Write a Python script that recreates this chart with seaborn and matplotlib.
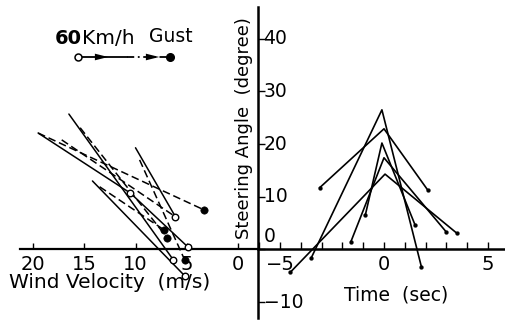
import numpy as np
import pandas as pd
import matplotlib
matplotlib.use("Agg")
import matplotlib.pyplot as plt
from matplotlib.lines import Line2D
from matplotlib.patches import FancyArrowPatch
import seaborn as sns

sns.set_style("white")
plt.rcParams["font.family"] = ["DejaVu Sans"]
plt.rcParams["text.color"] = "black"

# ---- Left panel: steering angle against wind velocity ----
# steady 60 km/h runs (solid, ending on an open circle)
solid_start_wind = [19.5, 16.5, 10.0, 14.2, 10.5]
solid_start_angle = [22.1, 25.7, 19.3, 13.0, 10.7]
solid_end_wind = [10.5, 6.3, 6.1, 5.2, 4.9]
solid_end_angle = [10.7, -2.0, 6.2, -5.0, 0.5]

# gust runs (dashed, the first four ending on a filled circle)
dashed_start_wind = [19.5, 15.4, 9.6, 13.5, 17.2]
dashed_start_angle = [22.1, 23.1, 17.0, 11.9, 20.8]
dashed_end_wind = [3.3, 6.9, 5.2, 7.2, 6.1]
dashed_end_angle = [7.5, 2.2, -2.0, 3.7, 6.2]
n_gust_points = 4

# ---- Right panel: steering angle time histories ----
t_start = [-3.1, -3.5, -0.9, -1.6, -4.5]
a_start = [11.7, -1.6, 6.5, 1.4, -4.3]
t_peak = [0.0, -0.1, -0.1, 0.0, 0.05]
a_peak = [22.9, 26.5, 20.2, 17.4, 14.3]
t_end = [2.1, 1.8, 1.5, 3.0, 3.5]
a_end = [11.3, -3.3, 4.6, 3.3, 3.1]

wind_ticks = [20, 15, 10, 5, 0]
time_ticks = [-5, 0, 5]
angle_ticks = [-10, 0, 10, 20, 30, 40]


def segments(x0, y0, x1, y1, xname, yname):
    rows = []
    for i, (a, b, c, d) in enumerate(zip(x0, y0, x1, y1)):
        rows.append({"seg": i, xname: a, yname: b})
        rows.append({"seg": i, xname: c, yname: d})
    return pd.DataFrame(rows)


solid_df = segments(solid_start_wind, solid_start_angle,
                    solid_end_wind, solid_end_angle, "wind", "angle")
dashed_df = segments(dashed_start_wind, dashed_start_angle,
                     dashed_end_wind, dashed_end_angle, "wind", "angle")

time_rows = []
for i in range(len(t_start)):
    for t, a in ((t_start[i], a_start[i]), (t_peak[i], a_peak[i]), (t_end[i], a_end[i])):
        time_rows.append({"run": i, "time": t, "angle": a})
time_df = pd.DataFrame(time_rows)

W, H = 505, 321
fig = plt.figure(figsize=(W / 100, H / 100), dpi=100)
split = 258
ax_l = fig.add_axes([0, 0, split / W, 1])
ax_r = fig.add_axes([split / W, 0, 1 - split / W, 1])

ylim = (-13.57, 47.34)
for ax in (ax_l, ax_r):
    ax.set_ylim(*ylim)
    ax.set_facecolor("none")
ax_l.set_xlim(23.22, -1.95)
ax_r.set_xlim(-6.06, 5.82)

lw = 1.1
dash = (0, (5, 2.5))

sns.lineplot(data=solid_df, x="wind", y="angle", units="seg", estimator=None,
             sort=False, color="black", lw=lw, ax=ax_l)
sns.lineplot(data=dashed_df, x="wind", y="angle", units="seg", estimator=None,
             sort=False, color="black", lw=lw, linestyle=dash, ax=ax_l)
sns.scatterplot(x=solid_end_wind, y=solid_end_angle, marker="o", s=22,
                facecolor="white", edgecolor="black", linewidth=1.0,
                zorder=4, ax=ax_l)
sns.scatterplot(x=dashed_end_wind[:n_gust_points], y=dashed_end_angle[:n_gust_points],
                marker="o", s=28, color="black", edgecolor="black",
                zorder=4, ax=ax_l)

sns.lineplot(data=time_df, x="time", y="angle", units="run", estimator=None,
             sort=False, color="black", lw=1.2, ax=ax_r)
sns.scatterplot(x=t_start + t_end, y=a_start + a_end, s=8, color="black",
                edgecolor="black", zorder=4, ax=ax_r)

for ax in (ax_l, ax_r):
    ax.set_xlabel("")
    ax.set_ylabel("")

# spines
for s in ("top", "right", "left"):
    ax_l.spines[s].set_visible(False)
ax_l.spines["bottom"].set_position(("data", 0))
ax_l.spines["bottom"].set_bounds(21.3, -1.95)
ax_l.spines["bottom"].set_linewidth(1.6)
ax_l.spines["bottom"].set_color("black")

for s in ("top", "right"):
    ax_r.spines[s].set_visible(False)
ax_r.spines["bottom"].set_position(("data", 0))
ax_r.spines["bottom"].set_bounds(-6.06, 5.82)
ax_r.spines["left"].set_bounds(-13.0, 46.0)
for s in ("bottom", "left"):
    ax_r.spines[s].set_linewidth(1.8)
    ax_r.spines[s].set_color("black")

# ticks
ax_l.set_yticks([])
ax_l.set_xticks(wind_ticks)
ax_l.set_xticklabels([str(v) for v in wind_ticks])
ax_l.tick_params(axis="x", direction="in", length=4, width=1.0, pad=4,
                 labelsize=14, colors="black", bottom=True)

ax_r.set_xticks(time_ticks)
ax_r.set_xticklabels(["\u22125", "0", "5"])
ax_r.set_xticks(np.arange(-6, 6, 1), minor=True)
ax_r.tick_params(axis="x", which="both", direction="in", length=5, width=1.0,
                 pad=4, labelsize=14, colors="black", bottom=True)
ax_r.set_yticks(angle_ticks)
ax_r.tick_params(axis="y", direction="in", length=5, width=1.0,
                 labelleft=False, left=True, colors="black")
for v in angle_ticks:
    if v == 0:
        ax_r.annotate("0", xy=(0, v), xycoords=("axes fraction", "data"),
                      xytext=(4, 2.5), textcoords="offset points",
                      ha="left", va="bottom", fontsize=13.5)
    else:
        lbl = f"\u2212{abs(v)}" if v < 0 else str(v)
        ax_r.annotate(lbl, xy=(0, v), xycoords=("axes fraction", "data"),
                      xytext=(4, 0), textcoords="offset points",
                      ha="left", va="center", fontsize=13.5)


def fp(x, y):
    return x / W, 1 - y / H


# axis titles
fig.text(*fp(110, 283), "Wind Velocity  (m/s)", fontsize=14.5,
         ha="center", va="center")
fig.text(*fp(396, 295), "Time  (sec)", fontsize=13.5, ha="center", va="center")
fig.text(*fp(244, 128), "Steering Angle  (degree)", fontsize=13,
         rotation=90, ha="center", va="center")

# key: 60 km/h (open) followed by gust (filled)
fig.text(*fp(55, 39), "60", fontsize=14, fontweight="bold", ha="left", va="center")
fig.text(*fp(82, 38), "Km/h", fontsize=14.5, ha="left", va="center")
fig.text(*fp(171, 36), "Gust", fontsize=13.5, ha="center", va="center")
ky = 57
x0, xm, x1 = 78, 127, 170
fig.add_artist(Line2D([fp(x0, ky)[0], fp(xm, ky)[0]], [fp(x0, ky)[1]] * 2,
                      transform=fig.transFigure, color="black", lw=1.3))
fig.add_artist(Line2D([fp(xm, ky)[0], fp(x1, ky)[0]], [fp(xm, ky)[1]] * 2,
                      transform=fig.transFigure, color="black", lw=1.3,
                      linestyle=(0, (4, 2, 1, 2))))
for xa in (100, 151):
    fig.add_artist(FancyArrowPatch(
        fp(xa, ky), fp(xa + 11, ky), transform=fig.transFigure,
        arrowstyle="-|>,head_length=0.8,head_width=0.2", mutation_scale=12,
        color="black", lw=0))
fig.add_artist(Line2D([fp(x0, ky)[0]], [fp(x0, ky)[1]], transform=fig.transFigure,
                      marker="o", markersize=5, markerfacecolor="white",
                      markeredgecolor="black", markeredgewidth=1.1))
fig.add_artist(Line2D([fp(x1, ky)[0]], [fp(x1, ky)[1]], transform=fig.transFigure,
                      marker="o", markersize=5.5, color="black"))

fig.savefig("out.png", dpi=100, facecolor="white")
